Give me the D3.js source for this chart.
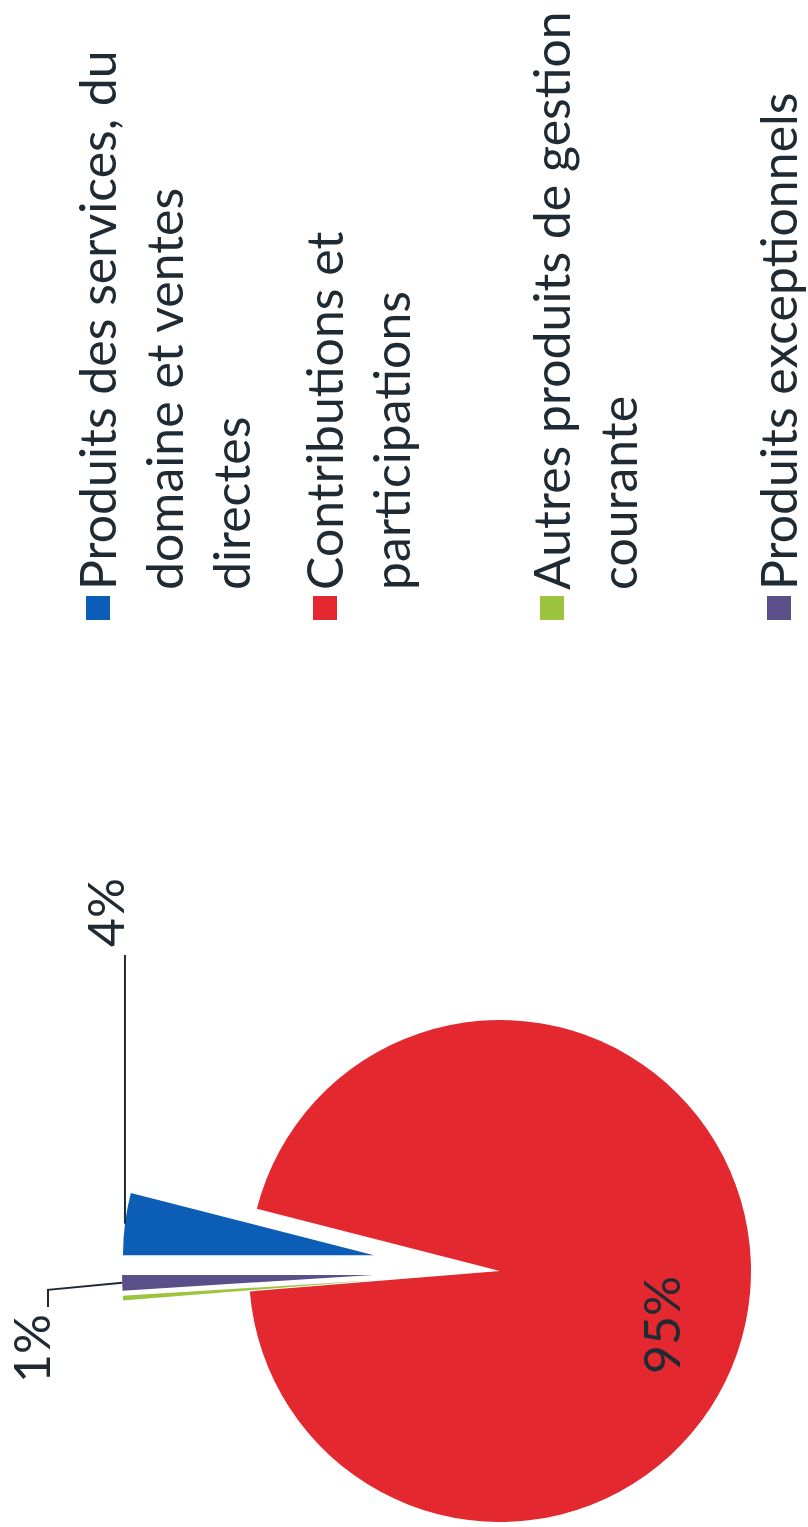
<!DOCTYPE html>
<html>
<head>
<meta charset="utf-8">
<script src="https://cdn.jsdelivr.net/npm/d3@7"></script>
<style>
  html, body { margin: 0; padding: 0; background: #ffffff; }
  svg { display: block; }
  text { font-family: Lato, "Open Sans", sans-serif; fill: #1f2a33; }
</style>
</head>
<body>
<svg id="chart" width="808" height="1527"></svg>
<script>
// Recettes de fonctionnement : répartition par nature
const categories = [
  "Produits des services, du domaine et ventes directes",
  "Contributions et participations",
  "Autres produits de gestion courante",
  "Produits exceptionnels"
];
const shares = [4, 95, 0.3, 1];            // en %
const shareLabels = ["4%", "95%", "", "1%"];
const legendLines = [
  ["Produits des services, du", "domaine et ventes", "directes"],
  ["Contributions et", "participations"],
  ["Autres produits de gestion", "courante"],
  ["Produits exceptionnels"]
];
const colors = ["#0b5db6", "#e3282f", "#9cc43e", "#5b4f8a"];
const exploded = [true, false, true, true];

const W = 1527, H = 808;           // landscape frame, turned a quarter for the page
const svg = d3.select("#chart");
const g = svg.append("g").attr("transform", `translate(0,${W}) rotate(-90)`);

const cx = 256, cy = 500, R = 251, explode = 127;

const pie = d3.pie().sort(null).value(d => d.v).startAngle(0).endAngle(2 * Math.PI);
const data = categories.map((c, i) => ({ c, v: shares[i], i }));
const arcs = pie(data);
const arc = d3.arc().innerRadius(0).outerRadius(R);
const mid = a => (a.startAngle + a.endAngle) / 2;
const dir = t => [Math.sin(t), -Math.cos(t)];

const pieG = g.append("g").attr("transform", `translate(${cx},${cy})`);
pieG.selectAll("path.slice")
  .data(arcs)
  .join("path")
  .attr("class", "slice")
  .attr("d", arc)
  .attr("fill", d => colors[d.data.i])
  .attr("transform", d => {
    if (!exploded[d.data.i]) return null;
    const [dx, dy] = dir(mid(d));
    return `translate(${dx * explode},${dy * explode})`;
  });

// outer point of an exploded slice along its bisector
const outerPt = a => {
  const [dx, dy] = dir(mid(a));
  const k = (exploded[a.data.i] ? explode : 0) + R;
  return [cx + dx * k, cy + dy * k];
};

const line = d3.line();
const lbl = g.append("g");

// 4% — leader running to the right
{
  const a = arcs[0];
  const p = outerPt(a);
  lbl.append("path")
    .attr("d", line([p, [572, p[1]]]))
    .attr("fill", "none").attr("stroke", "#1f2a33").attr("stroke-width", 2);
  lbl.append("text")
    .attr("x", 580).attr("y", p[1] - 1)
    .attr("font-size", 50)
    .text(shareLabels[0]);
}

// 1% — leader bending up and back
{
  const a = arcs[3];
  const p = outerPt(a);
  const elbow = [p[0] - 7, 48];
  lbl.append("path")
    .attr("d", line([p, elbow, [220, 48]]))
    .attr("fill", "none").attr("stroke", "#1f2a33").attr("stroke-width", 2);
  lbl.append("text")
    .attr("x", 213).attr("y", 50)
    .attr("text-anchor", "end")
    .attr("font-size", 50)
    .text(shareLabels[3]);
}

// 95% inside the main slice
{
  lbl.append("text")
    .attr("x", cx - 54).attr("y", cy + 180)
    .attr("text-anchor", "middle")
    .attr("font-size", 50)
    .text(shareLabels[1]);
}

// Legend
const legend = g.append("g");
const legX = 907, textX = 937, firstBase = 116, itemStep = 227, lineStep = 67;
legendLines.forEach((lines, i) => {
  const base = firstBase + i * itemStep;
  const item = legend.append("g");
  item.append("rect")
    .attr("x", legX).attr("y", base - 30)
    .attr("width", 24).attr("height", 24)
    .attr("fill", colors[i]);
  item.selectAll("text")
    .data(lines)
    .join("text")
    .attr("x", textX)
    .attr("y", (d, j) => base + j * lineStep)
    .attr("font-size", 50)
    .text(d => d);
});
</script>
</body>
</html>
